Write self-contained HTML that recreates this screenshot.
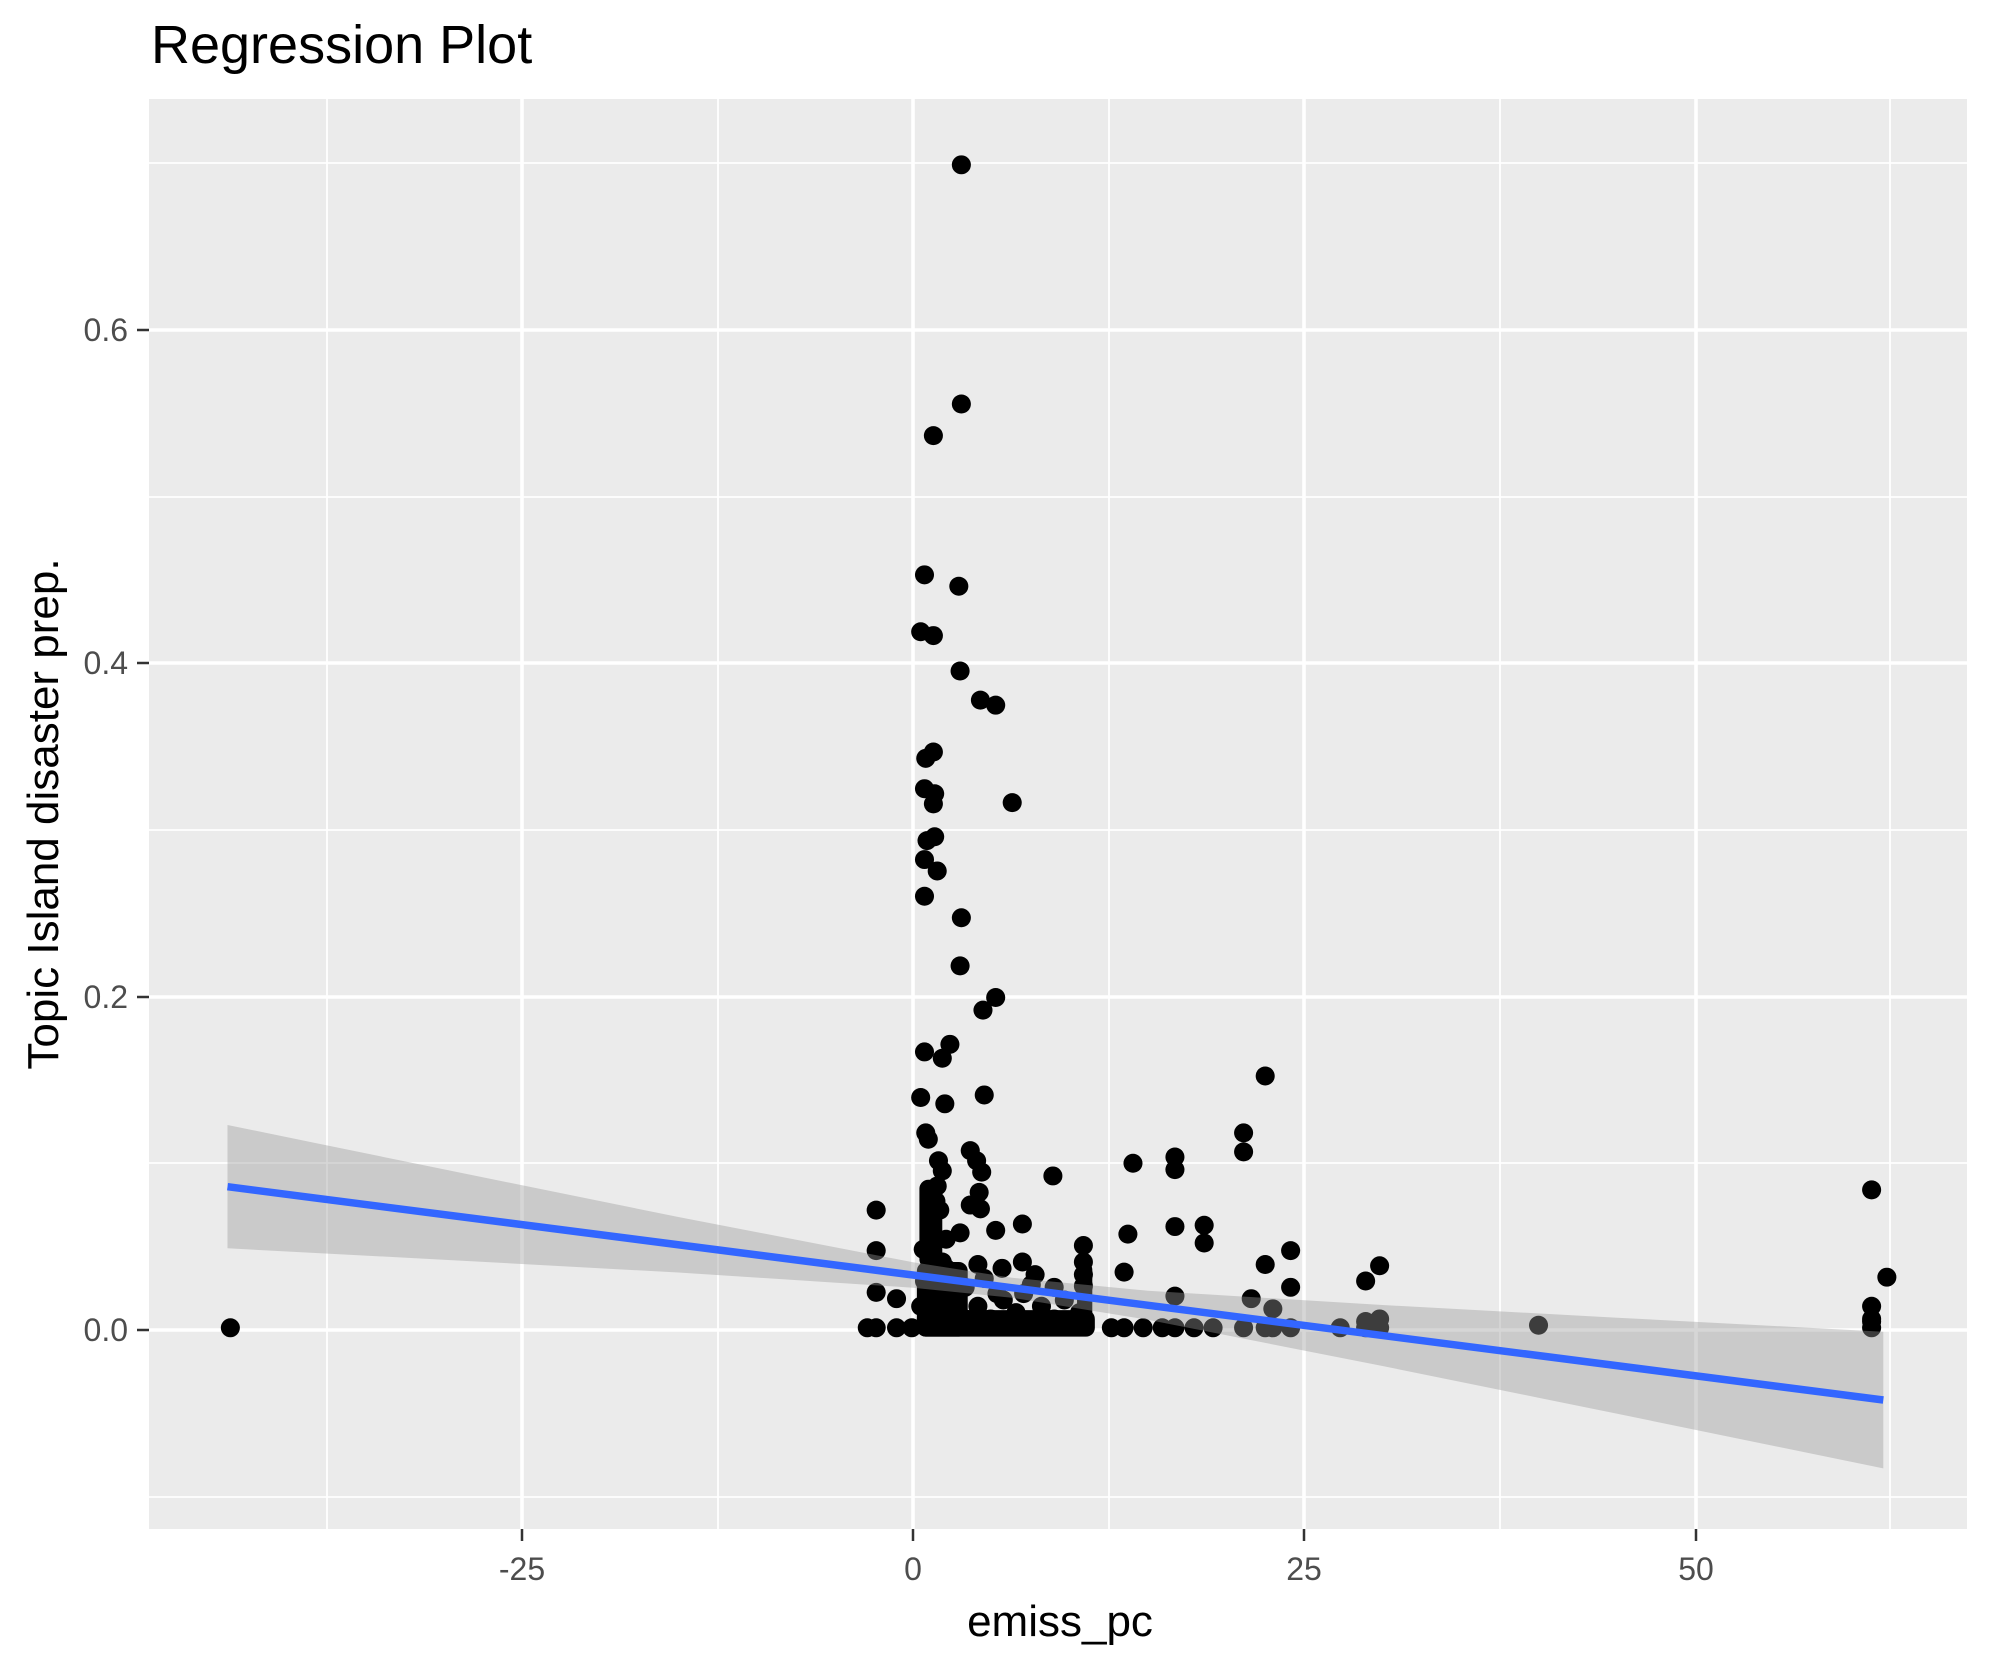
<!DOCTYPE html>
<html><head><meta charset="utf-8"><style>
html,body{margin:0;padding:0;background:#fff;}
svg{display:block;}
text{font-family:"Liberation Sans",sans-serif;}
</style></head><body>
<svg width="1990" height="1665" viewBox="0 0 1990 1665" xmlns="http://www.w3.org/2000/svg">
<rect width="1990" height="1665" fill="#fff"/>
<text x="151" y="63" font-size="54" fill="#000">Regression Plot</text>
<rect x="149" y="99" width="1818" height="1430" fill="#EBEBEB"/>
<g stroke="#fff" stroke-width="1.8">
<line x1="149" x2="1967" y1="163" y2="163"/><line x1="149" x2="1967" y1="497" y2="497"/>
<line x1="149" x2="1967" y1="830" y2="830"/><line x1="149" x2="1967" y1="1163" y2="1163"/>
<line x1="149" x2="1967" y1="1497" y2="1497"/>
<line y1="99" y2="1529" x1="327" x2="327"/><line y1="99" y2="1529" x1="718" x2="718"/>
<line y1="99" y2="1529" x1="1109" x2="1109"/><line y1="99" y2="1529" x1="1500" x2="1500"/>
<line y1="99" y2="1529" x1="1890" x2="1890"/>
</g>
<g stroke="#fff" stroke-width="3.6">
<line x1="149" x2="1967" y1="330" y2="330"/><line x1="149" x2="1967" y1="663" y2="663"/>
<line x1="149" x2="1967" y1="997" y2="997"/><line x1="149" x2="1967" y1="1330" y2="1330"/>
<line y1="99" y2="1529" x1="522" x2="522"/><line y1="99" y2="1529" x1="913" x2="913"/>
<line y1="99" y2="1529" x1="1304" x2="1304"/><line y1="99" y2="1529" x1="1696" x2="1696"/>
</g>
<g fill="#000" transform="matrix(1.2713,0,0,1.2655,-1.013,2.822)">
<g>
<circle cx="757" cy="128" r="7.5"/><circle cx="757" cy="317" r="7.5"/><circle cx="735" cy="342" r="7.5"/>
<circle cx="728" cy="452" r="7.5"/><circle cx="755" cy="461" r="7.5"/><circle cx="725" cy="497" r="7.5"/>
<circle cx="735" cy="500" r="7.5"/><circle cx="756" cy="528" r="7.5"/><circle cx="772" cy="551" r="7.5"/>
<circle cx="784" cy="555" r="7.5"/><circle cx="729" cy="597" r="7.5"/><circle cx="735" cy="592" r="7.5"/>
<circle cx="797" cy="632" r="7.5"/><circle cx="728" cy="621" r="7.5"/><circle cx="736" cy="625" r="7.5"/>
<circle cx="735" cy="633" r="7.5"/><circle cx="730" cy="662" r="7.5"/><circle cx="736" cy="659" r="7.5"/>
<circle cx="728" cy="677" r="7.5"/><circle cx="738" cy="686" r="7.5"/><circle cx="728" cy="706" r="7.5"/>
<circle cx="757" cy="723" r="7.5"/><circle cx="756" cy="761" r="7.5"/><circle cx="784" cy="786" r="7.5"/>
<circle cx="774" cy="796" r="7.5"/><circle cx="748" cy="823" r="7.5"/><circle cx="728" cy="829" r="7.5"/>
<circle cx="742" cy="834" r="7.5"/><circle cx="996" cy="848" r="7.5"/><circle cx="725" cy="865" r="7.5"/>
<circle cx="775" cy="863" r="7.5"/><circle cx="979" cy="893" r="7.5"/><circle cx="729" cy="893" r="7.5"/>
<circle cx="731" cy="898" r="7.5"/><circle cx="744" cy="870" r="7.5"/><circle cx="764" cy="907" r="7.5"/>
<circle cx="769" cy="915" r="7.5"/><circle cx="892" cy="917" r="7.5"/><circle cx="925" cy="912" r="7.5"/>
<circle cx="925" cy="922" r="7.5"/><circle cx="739" cy="915" r="7.5"/><circle cx="742" cy="923" r="7.5"/>
<circle cx="829" cy="927" r="7.5"/><circle cx="979" cy="908" r="7.5"/><circle cx="773" cy="924" r="7.5"/>
<circle cx="738" cy="935" r="7.5"/><circle cx="771" cy="940" r="7.5"/><circle cx="737" cy="947" r="7.5"/>
<circle cx="772" cy="953" r="7.5"/><circle cx="764" cy="950" r="7.5"/><circle cx="735" cy="957" r="7.5"/>
<circle cx="740" cy="954" r="7.5"/><circle cx="690" cy="954" r="7.5"/><circle cx="805" cy="965" r="7.5"/>
<circle cx="925" cy="967" r="7.5"/><circle cx="948" cy="966" r="7.5"/><circle cx="888" cy="973" r="7.5"/>
<circle cx="756" cy="972" r="7.5"/><circle cx="784" cy="970" r="7.5"/><circle cx="734" cy="970" r="7.5"/>
<circle cx="745" cy="977" r="7.5"/><circle cx="1473" cy="938" r="7.5"/><circle cx="948" cy="980" r="7.5"/>
<circle cx="1016" cy="986" r="7.5"/><circle cx="853" cy="982" r="7.5"/><circle cx="996" cy="997" r="7.5"/>
<circle cx="1086" cy="998" r="7.5"/><circle cx="805" cy="995" r="7.5"/><circle cx="690" cy="986" r="7.5"/>
<circle cx="727" cy="985" r="7.5"/><circle cx="733" cy="990" r="7.5"/><circle cx="742" cy="995" r="7.5"/>
<circle cx="853" cy="995" r="7.5"/><circle cx="812" cy="1013" r="7.5"/><circle cx="770" cy="997" r="7.5"/>
<circle cx="789" cy="1000" r="7.5"/><circle cx="885" cy="1003" r="7.5"/><circle cx="1485" cy="1007" r="7.5"/>
<circle cx="1075" cy="1010" r="7.5"/><circle cx="1016" cy="1015" r="7.5"/><circle cx="853" cy="1005" r="7.5"/>
<circle cx="853" cy="1014" r="7.5"/><circle cx="690" cy="1019" r="7.5"/><circle cx="706" cy="1024" r="7.5"/>
<circle cx="985" cy="1024" r="7.5"/><circle cx="1473" cy="1030" r="7.5"/><circle cx="925" cy="1022" r="7.5"/>
<circle cx="745" cy="1000" r="7.5"/><circle cx="728" cy="1010" r="7.5"/><circle cx="740" cy="1020" r="7.5"/>
<circle cx="760" cy="1015" r="7.5"/><circle cx="790" cy="1025" r="7.5"/><circle cx="830" cy="1015" r="7.5"/>
<circle cx="820" cy="1030" r="7.5"/><circle cx="806" cy="1020" r="7.5"/><circle cx="800" cy="1035" r="7.5"/>
<circle cx="770" cy="1030" r="7.5"/><circle cx="750" cy="1030" r="7.5"/><circle cx="725" cy="1030" r="7.5"/>
<circle cx="735" cy="1040" r="7.5"/><circle cx="760" cy="1040" r="7.5"/><circle cx="780" cy="1040" r="7.5"/>
<circle cx="800" cy="1040" r="7.5"/><circle cx="830" cy="1040" r="7.5"/><circle cx="850" cy="1035" r="7.5"/>
<circle cx="1002" cy="1032" r="7.5"/><circle cx="1086" cy="1040" r="7.5"/><circle cx="1075" cy="1042" r="7.5"/>
<circle cx="1473" cy="1042" r="7.5"/><circle cx="1473" cy="1047" r="7.5"/><circle cx="1211" cy="1045" r="7.5"/>
<circle cx="182" cy="1047" r="7.5"/>
<circle cx="683" cy="1047" r="7.5"/><circle cx="690" cy="1047" r="7.5"/><circle cx="706" cy="1047" r="7.5"/>
<circle cx="718" cy="1047" r="7.5"/><circle cx="875" cy="1047" r="7.5"/><circle cx="885" cy="1047" r="7.5"/>
<circle cx="900" cy="1047" r="7.5"/><circle cx="915" cy="1047" r="7.5"/><circle cx="925" cy="1047" r="7.5"/>
<circle cx="940" cy="1047" r="7.5"/><circle cx="955" cy="1047" r="7.5"/><circle cx="979" cy="1047" r="7.5"/>
<circle cx="996" cy="1047" r="7.5"/><circle cx="1002" cy="1047" r="7.5"/><circle cx="1016" cy="1047" r="7.5"/>
<circle cx="1055" cy="1047" r="7.5"/><circle cx="1075" cy="1047" r="7.5"/><circle cx="1086" cy="1047" r="7.5"/>
<circle cx="1473" cy="1040" r="7.5"/>
<circle cx="775" cy="1008" r="7.5"/><circle cx="815" cy="1005" r="7.5"/><circle cx="838" cy="1025" r="7.5"/>
<circle cx="785" cy="1020" r="7.5"/>
</g>
<rect x="722" y="1033" width="140" height="21" rx="7"/>
<rect x="722" y="995" width="40" height="59" rx="7"/>
<rect x="724" y="930" width="18" height="70" rx="7"/>
<rect x="848" y="995" width="12" height="50" rx="6"/>
</g>
<polygon fill="#999999" fill-opacity="0.4" points="227.5,1125 443.5,1169.3 678.3,1217 913,1262.3 1011.9,1277.7 1147.8,1290.7 1382.5,1305 1617.3,1317.7 1883.3,1331.7 1883.3,1468.4 1617.3,1413.8 1382.5,1366 1147.8,1319.8 1011.9,1297.7 913,1287.7 678.3,1272.5 443.5,1259.7 227.5,1248.3"/>
<line x1="227.5" y1="1186.7" x2="1883.3" y2="1400" stroke="#3366FF" stroke-width="7.5"/>
<g stroke="#333" stroke-width="2.5">
<line x1="137" x2="149" y1="330" y2="330"/><line x1="137" x2="149" y1="663" y2="663"/>
<line x1="137" x2="149" y1="997" y2="997"/><line x1="137" x2="149" y1="1330" y2="1330"/>
<line y1="1529" y2="1541" x1="522" x2="522"/><line y1="1529" y2="1541" x1="913" x2="913"/>
<line y1="1529" y2="1541" x1="1304" x2="1304"/><line y1="1529" y2="1541" x1="1696" x2="1696"/>
</g>
<g font-size="32" fill="#4D4D4D" text-anchor="end">
<text x="128" y="341">0.6</text><text x="128" y="674">0.4</text>
<text x="128" y="1008">0.2</text><text x="128" y="1341">0.0</text>
</g>
<g font-size="32" fill="#4D4D4D" text-anchor="middle">
<text x="522" y="1580">-25</text><text x="913" y="1580">0</text>
<text x="1304" y="1580">25</text><text x="1696" y="1580">50</text>
</g>
<text x="1060" y="1636" font-size="44" text-anchor="middle" fill="#000">emiss_pc</text>
<text transform="translate(58,814) rotate(-90)" font-size="44" text-anchor="middle" fill="#000">Topic Island disaster prep.</text>
</svg>
</body></html>
